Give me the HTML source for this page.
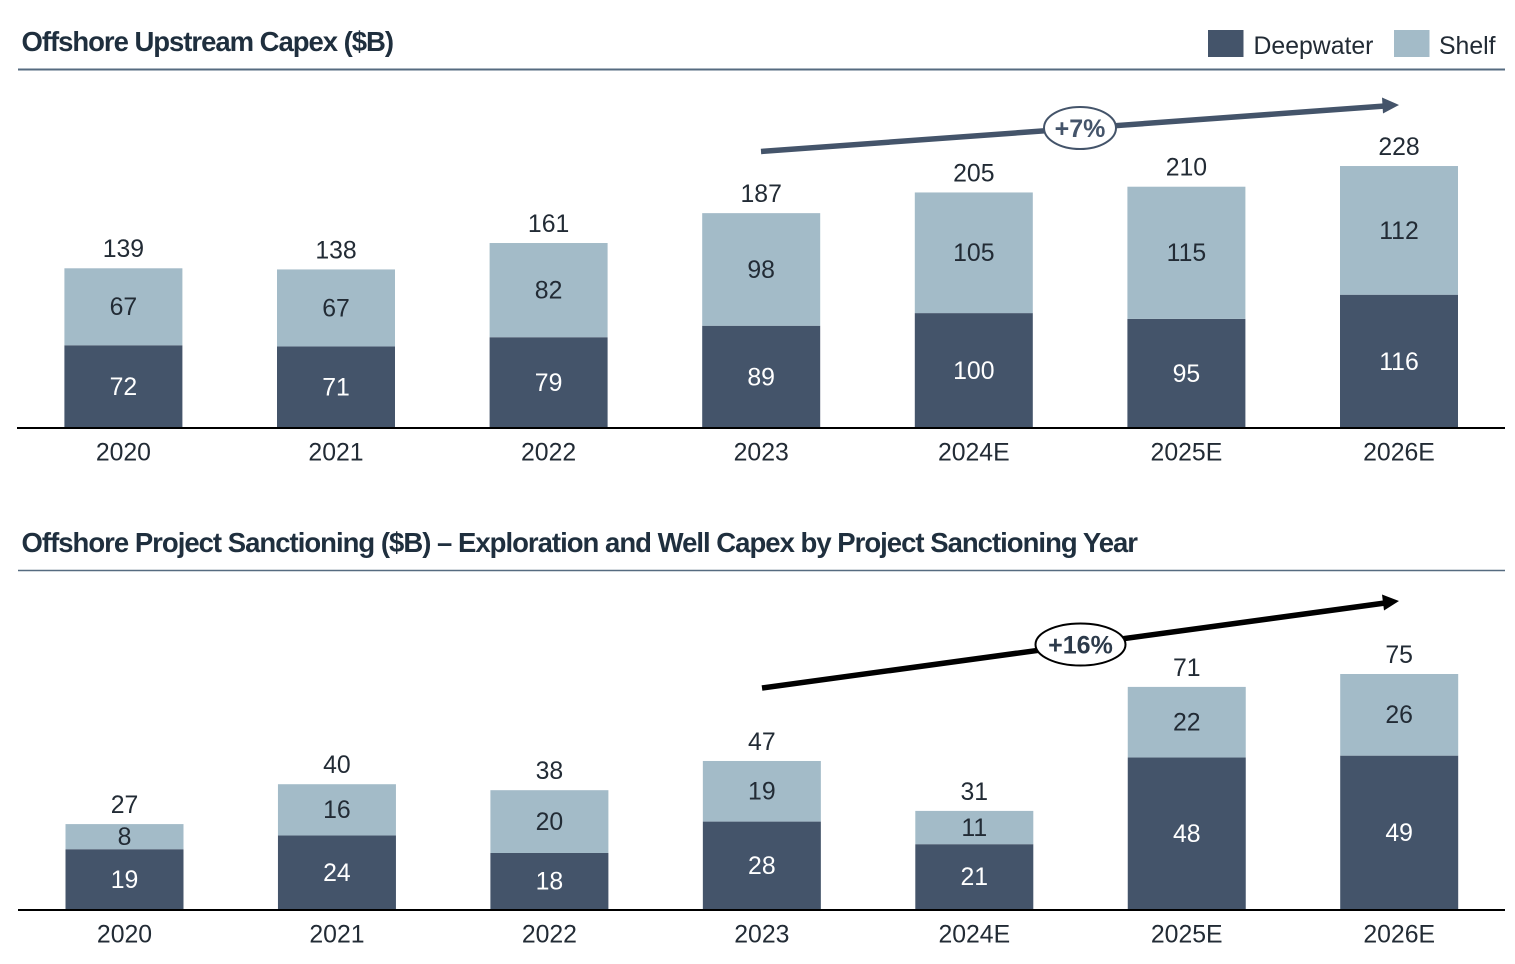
<!DOCTYPE html>
<html lang="en">
<head>
<meta charset="utf-8">
<title>Offshore Capex Charts</title>
<style>
html,body{margin:0;padding:0;background:#fff;}
body{width:1515px;height:964px;overflow:hidden;}
svg{display:block;}
text{font-family:"Liberation Sans",Arial,sans-serif;}
</style>
</head>
<body>
<svg id="chart" xmlns="http://www.w3.org/2000/svg" width="1515" height="964" viewBox="0 0 1515 964">
  <rect x="0" y="0" width="1515" height="964" fill="#ffffff"/>
  <text x="21.5" y="51" font-size="27.5" font-weight="700" fill="#1f2f3e" textLength="372.5" lengthAdjust="spacing">Offshore Upstream Capex ($B)</text>
  <line x1="18" y1="69.5" x2="1505" y2="69.5" stroke="#566b80" stroke-width="2"/>
  <text x="21.5" y="552" font-size="27.5" font-weight="700" fill="#1f2f3e" textLength="1116.5" lengthAdjust="spacing">Offshore Project Sanctioning ($B) – Exploration and Well Capex by Project Sanctioning Year</text>
  <line x1="18" y1="570.5" x2="1505" y2="570.5" stroke="#566b80" stroke-width="1.6"/>

  <g>
    <rect x="1208" y="30" width="35.5" height="27" fill="#44546a"/>
    <text x="1253.5" y="54" font-size="24.8" fill="#222b35">Deepwater</text>
    <rect x="1394" y="30" width="35.5" height="27" fill="#a3bbc8"/>
    <text x="1439" y="54" font-size="24.8" fill="#222b35">Shelf</text>
  </g>

  <g id="upstream-bars"></g>
  <g id="sanction-bars"></g>

  <line x1="17" y1="428" x2="1505" y2="428" stroke="#000000" stroke-width="2"/>
  <line x1="18" y1="910" x2="1505" y2="910" stroke="#000000" stroke-width="2"/>

  <g>
    <line x1="761" y1="151.5" x2="1385" y2="106" stroke="#44546a" stroke-width="5.5"/>
    <polygon points="1399,105 1382,97.5 1383,113.5" fill="#44546a"/>
    <ellipse cx="1080" cy="128" rx="36" ry="21" fill="#ffffff" stroke="#44546a" stroke-width="2"/>
    <text x="1080" y="137" font-size="25" font-weight="700" fill="#44546a" text-anchor="middle">+7%</text>
  </g>
  <g>
    <line x1="762" y1="688" x2="1385" y2="603" stroke="#000000" stroke-width="5.5"/>
    <polygon points="1399,601 1382,594.5 1384,610.5" fill="#000000"/>
    <ellipse cx="1080.5" cy="644.5" rx="45" ry="21" fill="#ffffff" stroke="#000000" stroke-width="2"/>
    <text x="1080.5" y="653.5" font-size="25" font-weight="700" fill="#2c3a4a" text-anchor="middle">+16%</text>
  </g>
</svg>
<script>
const categories = ["2020", "2021", "2022", "2023", "2024E", "2025E", "2026E"];
const upstreamDeepwater = [72, 71, 79, 89, 100, 95, 116];
const upstreamShelf = [67, 67, 82, 98, 105, 115, 112];
const sanctionDeepwater = [19.2, 23.6, 18, 28, 20.8, 48.4, 49];
const sanctionShelf = [8, 16.3, 20, 19.3, 10.6, 22.49, 26];

const SVG_NS = "http://www.w3.org/2000/svg";
const BAR_WIDTH = 118;
const DARK = "#44546a";
const LIGHT = "#a3bbc8";
const FONT_SIZE = 24.8;
const CAP_OFFSET = 8.4;

function upstreamX(i) { return 123.4 + i * 212.6; }
function upstreamY(v) { return 428 - v * 1.149; }
function sanctionX(i) { return 124.5 + i * 212.45; }
function sanctionY(v) { return 909.5 - v * 3.14; }

function addRect(parent, x, y, w, h, fill) {
  const el = document.createElementNS(SVG_NS, "rect");
  el.setAttribute("x", x);
  el.setAttribute("y", y);
  el.setAttribute("width", w);
  el.setAttribute("height", h);
  el.setAttribute("fill", fill);
  parent.appendChild(el);
  return el;
}

function addLabel(parent, x, cy, str, fill) {
  const el = document.createElementNS(SVG_NS, "text");
  el.setAttribute("x", x);
  el.setAttribute("y", cy + CAP_OFFSET);
  el.setAttribute("font-size", FONT_SIZE);
  el.setAttribute("text-anchor", "middle");
  el.setAttribute("fill", fill);
  el.textContent = str;
  parent.appendChild(el);
  return el;
}

function drawPanel(parent, prefix, deep, shelf, xFn, yFn, catY) {
  categories.forEach(function (cat, i) {
    const cx = xFn(i);
    const x = cx - BAR_WIDTH / 2;
    const y0 = yFn(0);
    const y1 = yFn(deep[i]);
    const y2 = yFn(deep[i] + shelf[i]);

    const deepBar = addRect(parent, x, y1, BAR_WIDTH, y0 - y1, DARK);
    
    

    const shelfBar = addRect(parent, x, y2, BAR_WIDTH, y1 - y2, LIGHT);
    
    

    const deepText = addLabel(parent, cx, (y0 + y1) / 2, Math.round(deep[i]), "#ffffff");
    
    

    const shelfText = addLabel(parent, cx, (y1 + y2) / 2, Math.round(shelf[i]), "#222b35");
    
    

    const totalText = addLabel(parent, cx, y2 - 19.5, Math.round(deep[i] + shelf[i]), "#222b35");
    
    

    const catText = addLabel(parent, cx, catY, cat, "#222b35");
    
    
  });
}

drawPanel(document.getElementById("upstream-bars"), "upstream", upstreamDeepwater, upstreamShelf, upstreamX, upstreamY, 452);
drawPanel(document.getElementById("sanction-bars"), "sanctioning", sanctionDeepwater, sanctionShelf, sanctionX, sanctionY, 934);
</script>
</body>
</html>
